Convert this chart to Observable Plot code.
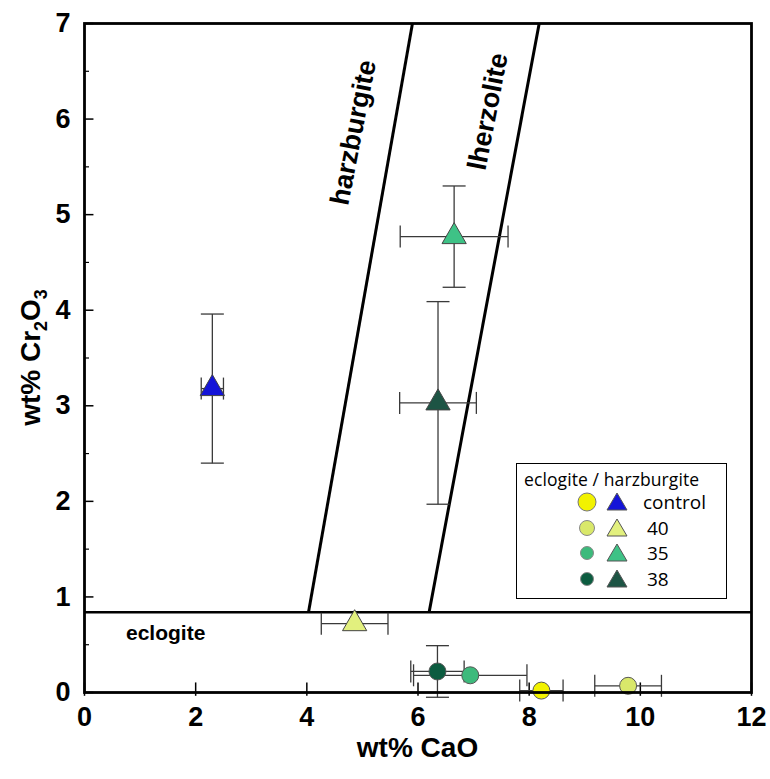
<!DOCTYPE html>
<html><head><meta charset="utf-8">
<script src="https://cdn.jsdelivr.net/npm/d3@7"></script>
<script src="https://cdn.jsdelivr.net/npm/@observablehq/plot@0.6"></script>
<style>
body{margin:0;background:#fff;font-family:"Liberation Sans",Arial,sans-serif}
#wrap{position:relative;width:770px;height:779px}
#legend{position:absolute;left:516px;top:463px;width:211px;height:136px;border:1.5px solid #000;background:#fff;box-sizing:border-box;font-family:"Open Sans","Liberation Sans",Arial,sans-serif}
#legend .title{position:absolute;left:7px;top:3px;font-size:17.5px;white-space:nowrap;letter-spacing:0.1px}
#legend .row{position:absolute;left:0;height:24px;width:100%}
#legend svg{position:absolute;left:0;top:0;overflow:visible}
#legend .lab{position:absolute;left:128px;font-size:19px;line-height:24px}
</style></head><body><div id="wrap"><div id="chart"></div><div id="legend"></div></div>
<script>
// axis ticks
const xTicks = [0, 2, 4, 6, 8, 10, 12];
const yTicks = [0, 1, 2, 3, 4, 5, 6, 7];
const yMinor = [0.5, 1.5, 2.5, 3.5, 4.5, 5.5, 6.5];

// sample series
const samples = ["control", "40", "35", "38"];
const circleColors = ["#f2f200", "#d9e86a", "#3dba7c", "#0c5c40"];
const triangleColors = ["#1414d8", "#e2f07e", "#3ec286", "#1d5444"];

// points: harzburgite (triangles) then eclogite (circles)
const ptSample = ["control", "40", "35", "38", "control", "40", "35", "38"];
const ptRock = ["harzburgite", "harzburgite", "harzburgite", "harzburgite", "eclogite", "eclogite", "eclogite", "eclogite"];
const ptCaO = [2.30, 4.86, 6.65, 6.36, 8.22, 9.78, 6.94, 6.35];
const ptCaOErr = [0.20, 0.60, 0.97, 0.69, 0.39, 0.60, 1.02, 0.48];
const ptCr = [3.18, 0.72, 4.77, 3.03, 0.02, 0.07, 0.18, 0.22];
const ptCrErr = [0.78, 0, 0.53, 1.06, 0, 0, 0, 0.27];

// field boundaries
const boundaryName = ["harzburgite", "lherzolite"];
const boundaryX1 = [4.03, 6.20];
const boundaryX2 = [5.90, 8.18];
const boundaryY1 = [0.84, 0.84];
const boundaryY2 = [7, 7];
const eclogiteLimit = 0.84;

// field labels
const fieldLabel = ["harzburgite", "lherzolite"];
const fieldLabelX = [4.84, 7.26];
const fieldLabelY = [5.86, 6.08];
const eclogiteLabel = "eclogite";
const eclogiteLabelX = 1.46;
const eclogiteLabelY = 0.62;

const pts = ptSample.map((s, i) => ({
  sample: s, rock: ptRock[i], x: ptCaO[i], xe: ptCaOErr[i], y: ptCr[i], ye: ptCrErr[i],
  color: (ptRock[i] === "eclogite" ? circleColors : triangleColors)[samples.indexOf(s)]
}));
const xErr = pts.filter(d => d.xe > 0);
const yErr = pts.filter(d => d.ye > 0);
const bounds = boundaryName.map((n, i) => ({n, x1: boundaryX1[i], x2: boundaryX2[i], y1: boundaryY1[i], y2: boundaryY2[i]}));
const labels = fieldLabel.map((t, i) => ({t, x: fieldLabelX[i], y: fieldLabelY[i]}));

const hcap = {draw(ctx, size) { const r = Math.sqrt(size / Math.PI); ctx.moveTo(-r, 0); ctx.lineTo(r, 0); }};
const vcap = {draw(ctx, size) { const r = Math.sqrt(size / Math.PI); ctx.moveTo(0, -r); ctx.lineTo(0, r); }};
const errColor = "#3a3a3a";

const chart = Plot.plot({
  width: 770, height: 779,
  marginLeft: 84, marginRight: 19, marginTop: 23, marginBottom: 87,
  x: {domain: [0, 12]},
  y: {domain: [0, 7]},
  style: {fontFamily: "Liberation Sans, Arial, sans-serif", background: "#fff"},
  marks: [
    // ticks (inside)
    Plot.ruleX(xTicks, {x: d => d, y1: -0.04, y2: 0.1, stroke: "#000", strokeWidth: 1.5}),
    Plot.ruleY(yTicks, {y: d => d, x1: 0, x2: 0.17, stroke: "#000", strokeWidth: 1.5}),
    Plot.ruleY(yMinor, {y: d => d, x1: 0, x2: 0.09, stroke: "#000", strokeWidth: 1.2}),
    Plot.axisX({ticks: xTicks, tickSize: 0, tickPadding: 14, fontSize: 27, fontWeight: "bold", label: null, tickFormat: d => String(d)}),
    Plot.axisY({ticks: yTicks, tickSize: 0, tickPadding: 14, fontSize: 27, fontWeight: "bold", label: null, tickFormat: d => String(d)}),
    // field boundaries
    Plot.ruleY([eclogiteLimit], {y: d => d, stroke: "#000", strokeWidth: 2.5}),
    Plot.link(bounds, {x1: "x1", y1: "y1", x2: "x2", y2: "y2", stroke: "#000", strokeWidth: 3}),
    Plot.text(labels, {x: "x", y: "y", text: "t", rotate: -79, fontSize: 27, fontWeight: "bold", fill: "#000"}),
    Plot.text([eclogiteLabel], {x: eclogiteLabelX, y: eclogiteLabelY, text: d => d, fontSize: 21, fontWeight: "bold", fill: "#000"}),
    // error bars
    Plot.link(xErr, {x1: d => d.x - d.xe, x2: d => d.x + d.xe, y1: "y", y2: "y", stroke: errColor, strokeWidth: 1.3}),
    Plot.dot(xErr, {x: d => d.x - d.xe, y: "y", symbol: vcap, r: 11, stroke: errColor, strokeWidth: 1.3, fill: "none"}),
    Plot.dot(xErr, {x: d => d.x + d.xe, y: "y", symbol: vcap, r: 11, stroke: errColor, strokeWidth: 1.3, fill: "none"}),
    Plot.link(yErr, {x1: "x", x2: "x", y1: d => d.y - d.ye, y2: d => d.y + d.ye, stroke: errColor, strokeWidth: 1.3}),
    Plot.dot(yErr, {x: "x", y: d => d.y - d.ye, symbol: hcap, r: 11.5, stroke: errColor, strokeWidth: 1.3, fill: "none"}),
    Plot.dot(yErr, {x: "x", y: d => d.y + d.ye, symbol: hcap, r: 11.5, stroke: errColor, strokeWidth: 1.3, fill: "none"}),
    // points
    Plot.dot(pts.filter(d => d.rock === "eclogite"), {x: "x", y: "y", symbol: "circle", r: 8.5, fill: "color", stroke: "#555", strokeWidth: 1}),
    Plot.dot(pts.filter(d => d.rock === "harzburgite"), {x: "x", y: "y", symbol: "triangle", r: 9, fill: "color", stroke: "#444", strokeWidth: 1}),
    Plot.frame({stroke: "#000", strokeWidth: 2.8})
  ]
});
document.getElementById("chart").appendChild(chart);

// axis titles
const svg = d3.select(chart);
svg.append("text").attr("x", 84 + (770 - 84 - 19) / 2).attr("y", 757).attr("text-anchor", "middle")
  .attr("font-size", 28).attr("font-weight", "bold").attr("font-family", "Liberation Sans, Arial, sans-serif").text("wt% CaO");
const yt = svg.append("text").attr("transform", "translate(40," + (23 + (779 - 23 - 87) / 2) + ") rotate(-90)")
  .attr("text-anchor", "middle").attr("font-size", 28).attr("font-weight", "bold").attr("font-family", "Liberation Sans, Arial, sans-serif");
yt.append("tspan").text("wt% Cr");
yt.append("tspan").attr("font-size", 18).attr("dy", 7).text("2");
yt.append("tspan").attr("dy", -7).text("O");
yt.append("tspan").attr("font-size", 18).attr("dy", 7).text("3");

// legend
const lg = document.getElementById("legend");
lg.innerHTML = '<div class="title">eclogite / harzburgite</div>';
const legendCircleR = [9, 7.5, 6.5, 6.5];
samples.forEach((s, i) => {
  const top = 26 + i * 25.5;
  const row = document.createElement("div");
  row.className = "row"; row.style.top = top + "px";
  const r = legendCircleR[i];
  row.innerHTML = `<svg width="210" height="24"><circle cx="70" cy="12" r="${r}" fill="${circleColors[i]}" stroke="${i===0?'#777':'#888'}" stroke-width="1"/>` +
    `<path d="M100,3 L110,20 L90,20 Z" fill="${triangleColors[i]}" stroke="#555" stroke-width="1"/></svg>` +
    `<div class="lab" style="left:${i===0?126:130}px">${s}</div>`;
  lg.appendChild(row);
});
</script></body></html>
